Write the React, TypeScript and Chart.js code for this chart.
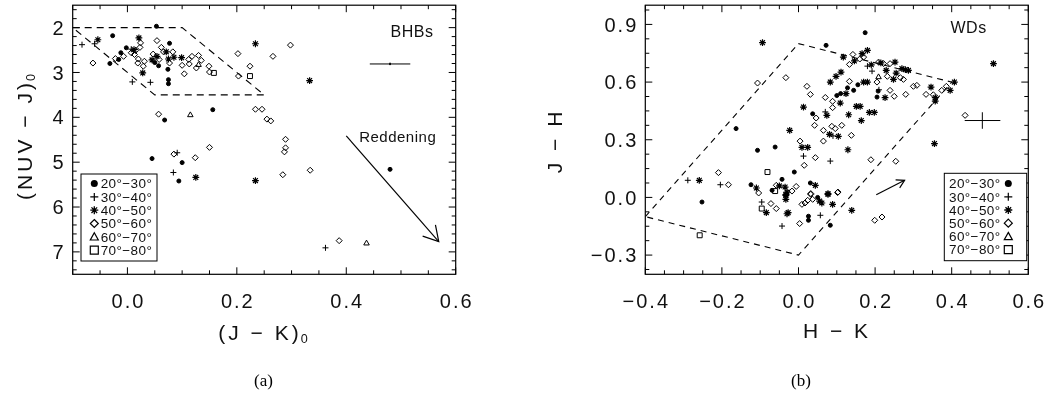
import React, { useEffect, useRef } from 'react';
import { Chart, registerables } from 'chart.js';

Chart.register(...registerables);

type P = [number, number];

// ---------------- Shared ----------------
const BIN_LABELS = ['20°−30°', '30°−40°', '40°−50°', '50°−60°', '60°−70°', '70°−80°'];

// ---------------- Panel (a): BHBs ----------------
const A_X_RANGE: P = [-0.1, 0.6];
const A_Y_RANGE: P = [1.5, 7.5];
const A_X_TICKS = [0.0, 0.2, 0.4, 0.6];
const A_Y_TICKS = [2, 3, 4, 5, 6, 7];
const A_X_MINOR = 0.05;
const A_Y_MINOR = 0.2;

const A_20_30: P[] = [
  [0.053, 1.97], [-0.027, 2.18], [-0.032, 2.80], [-0.016, 2.71], [-0.012, 2.56], [-0.002, 2.45],
  [0.077, 2.35], [0.075, 3.16], [0.075, 3.25], [0.074, 2.93], [0.156, 3.83], [0.068, 4.06],
  [0.045, 4.92], [0.1, 5.01], [0.094, 5.42], [0.05, 2.78], [0.057, 2.85], [0.48, 5.16],
];
const A_30_40: P[] = [
  [-0.083, 2.38], [-0.06, 2.36], [0.009, 3.21], [0.042, 3.22], [0.091, 4.79], [0.084, 5.23],
  [0.362, 6.91], [0.007, 2.48],
];
const A_40_50: P[] = [
  [-0.054, 2.27], [0.021, 2.23], [0.012, 2.49], [0.028, 3.01], [0.071, 2.54], [0.085, 2.66],
  [0.099, 2.67], [0.054, 2.64], [0.125, 5.34], [0.234, 2.36], [0.234, 5.41], [0.333, 3.18],
  [0.045, 2.72], [0.075, 2.70],
];
const A_50_60: P[] = [
  [-0.063, 2.79], [-0.022, 2.69], [-0.007, 2.64], [0.007, 2.56], [0.015, 2.51], [0.019, 2.79],
  [0.024, 2.34], [0.023, 2.44], [0.029, 2.86], [0.031, 2.75], [0.054, 2.29], [0.062, 2.44],
  [0.047, 2.59], [0.058, 2.71], [0.066, 2.54], [0.083, 2.54], [0.077, 2.79], [0.1, 2.84],
  [0.104, 3.03], [0.112, 2.71], [0.118, 2.64], [0.13, 2.62], [0.135, 2.73], [0.126, 2.9],
  [0.113, 2.81], [0.149, 2.86], [0.15, 2.99], [0.202, 2.58], [0.224, 2.86], [0.203, 3.08],
  [0.057, 3.93], [0.124, 4.9], [0.15, 4.67], [0.085, 4.82], [0.234, 3.82], [0.246, 3.82],
  [0.255, 4.04], [0.262, 4.08], [0.298, 2.39], [0.266, 2.64], [0.289, 4.49], [0.289, 4.68],
  [0.287, 4.77], [0.284, 5.28], [0.334, 5.18], [0.387, 6.75], [0.013, 2.6], [0.02, 2.7],
];
const A_60_70: P[] = [[0.115, 3.95], [0.437, 6.81], [0.13, 2.83]];
const A_70_80: P[] = [[0.158, 3.01], [0.224, 3.08]];

const A_BOX: P[] = [[-0.1, 2.0], [0.1, 2.0], [0.25, 3.5], [0.05, 3.5], [-0.1, 2.0]];
const A_ARROW: P[] = [[0.40, 4.415], [0.569, 6.77]];
const A_ERR_X: P[] = [[0.443, 2.81], [0.517, 2.81]];
const A_ERR_Y: P[] = [[0.48, 2.785], [0.48, 2.835]];

// ---------------- Panel (b): WDs ----------------
const B_X_RANGE: P = [-0.4, 0.6];
const B_Y_RANGE: P = [-0.4, 1.0];
const B_X_TICKS = [-0.4, -0.2, 0.0, 0.2, 0.4, 0.6];
const B_Y_TICKS = [-0.3, 0.0, 0.3, 0.6, 0.9];
const B_X_MINOR = 0.05;
const B_Y_MINOR = 0.075;

const B_20_30: P[] = [
  [0.174, 0.857], [0.072, 0.791], [-0.163, 0.358], [-0.107, 0.245], [-0.061, 0.262], [-0.124, 0.066],
  [-0.043, 0.094], [-0.069, 0.037], [-0.252, -0.024], [-0.011, 0.132], [0.037, 0.435], [0.1, 0.53],
  [0.11, 0.54], [0.128, 0.57], [0.144, 0.557], [0.155, 0.586], [0.205, 0.522], [0.208, 0.553],
  [0.031, 0.075], [0.026, -0.098], [0.026, -0.119], [0.083, -0.145], [0.05, 0.0],
];
const B_30_40: P[] = [
  [-0.289, 0.089], [-0.204, 0.066], [-0.096, -0.024], [-0.043, -0.149], [0.083, 0.189], [0.013, 0.215],
  [0.09, 0.32], [0.07, 0.445], [0.18, 0.683], [0.192, 0.657], [0.21, 0.56], [0.057, -0.093],
];
const B_40_50: P[] = [
  [-0.094, 0.805], [-0.259, 0.089], [-0.11, 0.049], [-0.05, 0.06], [-0.033, 0.011], [-0.084, -0.079],
  [-0.03, -0.085], [-0.033, 0.015], [-0.033, -0.01], [0.509, 0.696], [0.355, 0.28], [0.129, 0.248],
  [0.009, 0.26], [0.024, 0.26], [0.104, 0.318], [0.081, 0.328], [-0.023, 0.349], [0.013, 0.47],
  [0.074, 0.427], [0.131, 0.43], [0.151, 0.474], [0.161, 0.474], [0.185, 0.442], [0.198, 0.442],
  [0.164, 0.4], [0.109, 0.491], [0.083, 0.6], [0.098, 0.63], [0.111, 0.652], [0.124, 0.54],
  [0.17, 0.6], [0.18, 0.6], [0.117, 0.73], [0.166, 0.748], [0.18, 0.765], [0.146, 0.71],
  [0.19, 0.69], [0.252, 0.704], [0.229, 0.661], [0.248, 0.614], [0.255, 0.647], [0.27, 0.67],
  [0.279, 0.665], [0.287, 0.661], [0.226, 0.519], [0.346, 0.574], [0.357, 0.519], [0.357, 0.501],
  [0.396, 0.557], [0.407, 0.6], [-0.03, 0.028], [-0.035, 0.054], [0.044, 0.063], [0.077, 0.02],
  [-0.027, -0.079], [0.055, -0.019], [0.061, -0.029], [0.077, 0.016], [0.089, -0.036], [0.139, -0.067],
  [0.215, 0.7],
];
const B_50_60: P[] = [
  [-0.107, 0.595], [-0.033, 0.623], [-0.209, 0.129], [-0.183, 0.066], [-0.104, 0.023], [-0.058, 0.063],
  [-0.072, -0.032], [-0.058, -0.058], [0.435, 0.427], [0.189, 0.196], [0.254, 0.188], [0.044, 0.207],
  [0.015, 0.167], [0.004, 0.293], [0.065, 0.293], [0.113, 0.375], [0.138, 0.323], [0.096, 0.358],
  [0.087, 0.37], [0.065, 0.349], [0.042, 0.375], [0.046, 0.413], [0.089, 0.467], [0.07, 0.52],
  [0.089, 0.5], [0.022, 0.578], [0.031, 0.536], [0.133, 0.604], [0.142, 0.744], [0.133, 0.692],
  [0.16, 0.72], [0.17, 0.73], [0.209, 0.704], [0.222, 0.696], [0.239, 0.696], [0.205, 0.6],
  [0.232, 0.63], [0.266, 0.623], [0.274, 0.614], [0.239, 0.557], [0.25, 0.526], [0.28, 0.536],
  [0.3, 0.578], [0.309, 0.583], [0.333, 0.536], [0.352, 0.534], [0.374, 0.557], [0.386, 0.578],
  [-0.017, 0.033], [-0.006, 0.057], [0.032, 0.02], [0.102, 0.025], [0.032, 0.016], [0.009, -0.036],
  [0.017, -0.029], [0.024, -0.015], [0.037, -0.01], [0.003, -0.136], [0.199, -0.119], [0.218, -0.102],
  [0.103, 0.028],
];
const B_60_70: P[] = [[0.209, 0.626]];
const B_70_80: P[] = [[-0.081, 0.132], [-0.061, 0.033], [-0.096, -0.058], [-0.258, -0.197]];

const B_BOX: P[] = [[-0.4, -0.1], [0.0, 0.8], [0.4, 0.6], [0.0, -0.3], [-0.4, -0.1]];
const B_ARROW: P[] = [[0.203, 0.014], [0.277, 0.089]];
const B_ERR_X: P[] = [[0.434, 0.40], [0.527, 0.40]];
const B_ERR_Y: P[] = [[0.48, 0.357], [0.48, 0.443]];

// ---------------- Styling ----------------
const FONT = "'Liberation Sans', Arial, sans-serif";
const INK = '#111';

const BIN_STYLES = [
  { style: 'circle', r: 2, fill: true, w: 1 },
  { style: 'cross', r: 3, fill: false, w: 1 },
  { style: 'star', r: 3.4, fill: false, w: 1.2 },
  { style: 'rectRot', r: 3, fill: false, w: 1 },
  { style: 'triangle', r: 3.2, fill: false, w: 1 },
  { style: 'rect', r: 3.5, fill: false, w: 1 },
];

interface TextSpec { t: string; x: number; y: number; size: number; }
interface PanelSpec {
  width: number;
  padding: { left: number; top: number; right: number; bottom: number };
  xRange: P; yRange: P; yReverse: boolean;
  xTicks: number[]; yTicks: number[]; xMinor: number; yMinor: number;
  xDec: number; yDec: number;
  xTitle: string; xSub: string; yTitle: string; ySub: string;
  xTitleY: number; yTitleX: number; yTitleY: number; xTitleX: number;
  series: P[][];
  box: P[]; dash: number[];
  arrow: P[]; headLen: number;
  errX: P[]; errY: P[];
  texts: TextSpec[];
  legend: { l: number; t: number; r: number; b: number; y0: number; dy: number; symX: number; textX: number };
}

function fmt(v: number, dec: number) {
  const s = Math.abs(v) < 1e-9 ? (0).toFixed(dec) : v.toFixed(dec);
  return s.startsWith('-') ? '−' + s.slice(1) : s;
}

function drawSym(ctx: CanvasRenderingContext2D, style: string, x: number, y: number, r: number) {
  ctx.beginPath();
  switch (style) {
    case 'circle':
      ctx.arc(x, y, r, 0, Math.PI * 2);
      ctx.fill();
      return;
    case 'cross':
      ctx.moveTo(x - r, y); ctx.lineTo(x + r, y);
      ctx.moveTo(x, y - r); ctx.lineTo(x, y + r);
      break;
    case 'star': {
      for (let k = 0; k < 4; k++) {
        const a = (k * Math.PI) / 4;
        ctx.moveTo(x - r * Math.cos(a), y - r * Math.sin(a));
        ctx.lineTo(x + r * Math.cos(a), y + r * Math.sin(a));
      }
      break;
    }
    case 'rectRot':
      ctx.moveTo(x, y - r); ctx.lineTo(x + r, y); ctx.lineTo(x, y + r); ctx.lineTo(x - r, y); ctx.closePath();
      break;
    case 'triangle':
      ctx.moveTo(x, y - r); ctx.lineTo(x + r, y + r * 0.8); ctx.lineTo(x - r, y + r * 0.8); ctx.closePath();
      break;
    case 'rect':
      ctx.rect(x - r, y - r, 2 * r, 2 * r);
      break;
  }
  ctx.stroke();
}

function setFont(ctx: any, size: number, ls: number) {
  ctx.font = `${size}px ${FONT}`;
  ctx.letterSpacing = `${ls}px`;
}

function makePlugin(spec: PanelSpec) {
  return {
    id: 'idlFrame',
    afterDraw(chart: any) {
      const ctx: any = chart.ctx;
      const a = chart.chartArea;
      const xs = chart.scales.x;
      const ys = chart.scales.y;
      ctx.save();
      ctx.strokeStyle = '#000';
      ctx.fillStyle = INK;
      ctx.lineWidth = 1.2;
      ctx.setLineDash([]);
      ctx.strokeRect(a.left, a.top, a.right - a.left, a.bottom - a.top);

      // ticks (inward, all four sides)
      const isMajor = (v: number, majors: number[]) => majors.some((m) => Math.abs(m - v) < 1e-6);
      const MAJ = 7, MIN = 4;
      ctx.lineWidth = 1;
      ctx.beginPath();
      const [x0, x1] = spec.xRange;
      for (let i = Math.ceil(x0 / spec.xMinor - 1e-6); i * spec.xMinor <= x1 + 1e-6; i++) {
        const v = i * spec.xMinor;
        const px = xs.getPixelForValue(v);
        const len = isMajor(v, spec.xTicks) ? MAJ : MIN;
        ctx.moveTo(px, a.bottom); ctx.lineTo(px, a.bottom - len);
        ctx.moveTo(px, a.top); ctx.lineTo(px, a.top + len);
      }
      const [y0, y1] = spec.yRange;
      for (let i = Math.ceil(y0 / spec.yMinor - 1e-6); i * spec.yMinor <= y1 + 1e-6; i++) {
        const v = i * spec.yMinor;
        const py = ys.getPixelForValue(v);
        const len = isMajor(v, spec.yTicks) ? MAJ : MIN;
        ctx.moveTo(a.left, py); ctx.lineTo(a.left + len, py);
        ctx.moveTo(a.right, py); ctx.lineTo(a.right - len, py);
      }
      ctx.stroke();

      // tick labels
      const TS = 20, TLS = 2, CAP = 0.716;
      setFont(ctx, TS, TLS);
      ctx.textBaseline = 'alphabetic';
      ctx.textAlign = 'center';
      spec.xTicks.forEach((v) => {
        ctx.fillText(fmt(v, spec.xDec), xs.getPixelForValue(v) + TLS / 2, a.bottom + 27 + (TS * CAP) / 2);
      });
      ctx.textAlign = 'right';
      spec.yTicks.forEach((v) => {
        ctx.fillText(fmt(v, spec.yDec), a.left - 9 + TLS, ys.getPixelForValue(v) + (TS * CAP) / 2);
      });

      // axis titles
      const TT = 21, TTLS = 3;
      const titleWithSub = (main: string, sub: string, cx: number, baseY: number) => {
        setFont(ctx, TT, TTLS);
        const w1 = ctx.measureText(main).width;
        setFont(ctx, TT * 0.6, 1);
        const w2 = sub ? ctx.measureText(sub).width : 0;
        const start = cx - (w1 + w2) / 2;
        ctx.textAlign = 'left';
        setFont(ctx, TT, TTLS);
        ctx.fillText(main, start, baseY);
        if (sub) {
          setFont(ctx, TT * 0.6, 1);
          ctx.fillText(sub, start + w1 - 1, baseY + 3);
        }
      };
      ctx.textBaseline = 'alphabetic';
      titleWithSub(spec.xTitle, spec.xSub, spec.xTitleX, spec.xTitleY + (TT * CAP) / 2);
      ctx.save();
      ctx.translate(spec.yTitleX, spec.yTitleY);
      ctx.rotate(-Math.PI / 2);
      titleWithSub(spec.yTitle, spec.ySub, 0, (TT * CAP) / 2);
      ctx.restore();

      // in-plot texts
      ctx.textAlign = 'center';
      spec.texts.forEach((t) => {
        setFont(ctx, t.size, 0.5);
        ctx.fillText(t.t, xs.getPixelForValue(t.x), ys.getPixelForValue(t.y) + (t.size * CAP) / 2);
      });

      // arrow head
      const [s, e] = spec.arrow;
      const sx = xs.getPixelForValue(s[0]), sy = ys.getPixelForValue(s[1]);
      const ex = xs.getPixelForValue(e[0]), ey = ys.getPixelForValue(e[1]);
      const ang = Math.atan2(ey - sy, ex - sx);
      const phi = (30 * Math.PI) / 180;
      ctx.lineWidth = 1.2;
      ctx.strokeStyle = '#000';
      ctx.beginPath();
      ctx.moveTo(ex - spec.headLen * Math.cos(ang - phi), ey - spec.headLen * Math.sin(ang - phi));
      ctx.lineTo(ex, ey);
      ctx.lineTo(ex - spec.headLen * Math.cos(ang + phi), ey - spec.headLen * Math.sin(ang + phi));
      ctx.stroke();

      // legend
      const L = spec.legend;
      ctx.fillStyle = '#fff';
      ctx.fillRect(L.l, L.t, L.r - L.l, L.b - L.t);
      ctx.lineWidth = 1;
      ctx.strokeStyle = '#000';
      ctx.strokeRect(L.l, L.t, L.r - L.l, L.b - L.t);
      ctx.fillStyle = INK;
      setFont(ctx, 13.5, 0.4);
      ctx.textAlign = 'left';
      BIN_LABELS.forEach((lab, i) => {
        const yy = L.y0 + i * L.dy;
        ctx.fillStyle = INK;
        ctx.fillText(lab, L.textX, yy + 4.8);
        const st = BIN_STYLES[i];
        ctx.fillStyle = '#000';
        ctx.lineWidth = st.style === 'star' ? 1.3 : 1.2;
        drawSym(ctx, st.style, L.symX, yy, st.style === 'circle' ? 3.5 : 4);
      });
      ctx.restore();
    },
  };
}

function buildConfig(spec: PanelSpec): any {
  const toXY = (pts: P[]) => pts.map(([x, y]) => ({ x, y }));
  const lineDs = (pts: P[], dash: number[], w = 1.1) => ({
    data: toXY(pts),
    showLine: true,
    pointRadius: 0,
    borderColor: '#000',
    borderWidth: w,
    borderDash: dash,
    fill: false,
    tension: 0,
  });
  const pointDs = spec.series.map((pts, i) => {
    const st = BIN_STYLES[i];
    return {
      label: BIN_LABELS[i],
      data: toXY(pts),
      showLine: false,
      pointStyle: st.style,
      pointRadius: st.r,
      pointBorderWidth: st.w,
      pointBorderColor: '#000',
      pointBackgroundColor: st.fill ? '#000' : 'rgba(0,0,0,0)',
    };
  });
  return {
    type: 'scatter',
    data: {
      datasets: [
        lineDs(spec.box, spec.dash),
        lineDs(spec.arrow, [], 1.2),
        lineDs(spec.errX, [], 1),
        lineDs(spec.errY, [], 1),
        ...pointDs,
      ],
    },
    options: {
      responsive: false,
      animation: false,
      events: [],
      layout: { padding: spec.padding },
      plugins: { legend: { display: false }, tooltip: { enabled: false } },
      scales: {
        x: { type: 'linear', min: spec.xRange[0], max: spec.xRange[1], display: false },
        y: { type: 'linear', min: spec.yRange[0], max: spec.yRange[1], reverse: spec.yReverse, display: false },
      },
    },
    plugins: [makePlugin(spec)],
  };
}

const SPEC_A: PanelSpec = {
  width: 527,
  padding: { left: 72.7, top: 4.7, right: 71.3, bottom: 132.7 },
  xRange: A_X_RANGE, yRange: A_Y_RANGE, yReverse: true,
  xTicks: A_X_TICKS, yTicks: A_Y_TICKS, xMinor: A_X_MINOR, yMinor: A_Y_MINOR,
  xDec: 1, yDec: 0,
  xTitle: '(J − K)', xSub: '0', yTitle: '(NUV − J)', ySub: '0',
  xTitleX: 264, xTitleY: 332, yTitleX: 24, yTitleY: 136,
  series: [A_20_30, A_30_40, A_40_50, A_50_60, A_60_70, A_70_80],
  box: A_BOX, dash: [7, 5],
  arrow: A_ARROW, headLen: 17,
  errX: A_ERR_X, errY: A_ERR_Y,
  texts: [
    { t: 'BHBs', x: 0.52, y: 2.08, size: 16 },
    { t: 'Reddening', x: 0.494, y: 4.42, size: 15 },
  ],
  legend: { l: 81, t: 174, r: 157, b: 261, y0: 183.6, dy: 13.3, symX: 94.3, textX: 100.7 },
};

const SPEC_B: PanelSpec = {
  width: 528,
  padding: { left: 118.3, top: 4.7, right: 26.7, bottom: 132.7 },
  xRange: B_X_RANGE, yRange: B_Y_RANGE, yReverse: false,
  xTicks: B_X_TICKS, yTicks: B_Y_TICKS, xMinor: B_X_MINOR, yMinor: B_Y_MINOR,
  xDec: 1, yDec: 1,
  xTitle: 'H − K', xSub: '', yTitle: 'J − H', ySub: '',
  xTitleX: 310, xTitleY: 330, yTitleX: 27, yTitleY: 141,
  series: [B_20_30, B_30_40, B_40_50, B_50_60, B_60_70, B_70_80],
  box: B_BOX, dash: [6, 5],
  arrow: B_ARROW, headLen: 9,
  errX: B_ERR_X, errY: B_ERR_Y,
  texts: [{ t: 'WDs', x: 0.444, y: 0.887, size: 16 }],
  legend: { l: 417.3, t: 173.3, r: 499.7, b: 260.7, y0: 183.6, dy: 13.2, symX: 481.3, textX: 422 },
};

function Panel({ spec, left }: { spec: PanelSpec; left: number }) {
  const ref = useRef<HTMLCanvasElement | null>(null);
  useEffect(() => {
    if (!ref.current) return;
    const chart = new Chart(ref.current, buildConfig(spec));
    return () => chart.destroy();
  }, [spec]);
  return (
    <canvas
      ref={ref}
      width={spec.width}
      height={407}
      style={{ position: 'absolute', left, top: 0, width: spec.width, height: 407 }}
    />
  );
}

export default function App() {
  const capStyle: React.CSSProperties = {
    position: 'absolute',
    top: 371,
    width: 60,
    textAlign: 'center',
    font: "17px 'Liberation Serif', 'Times New Roman', serif",
    color: '#000',
    lineHeight: '20px',
  };
  return (
    <div style={{ position: 'fixed', left: 0, top: 0, width: 1055, height: 407, background: '#fff', overflow: 'hidden' }}>
      <Panel spec={SPEC_A} left={0} />
      <Panel spec={SPEC_B} left={527} />
      <div style={{ ...capStyle, left: 233.5 }}>(a)</div>
      <div style={{ ...capStyle, left: 771 }}>(b)</div>
    </div>
  );
}
